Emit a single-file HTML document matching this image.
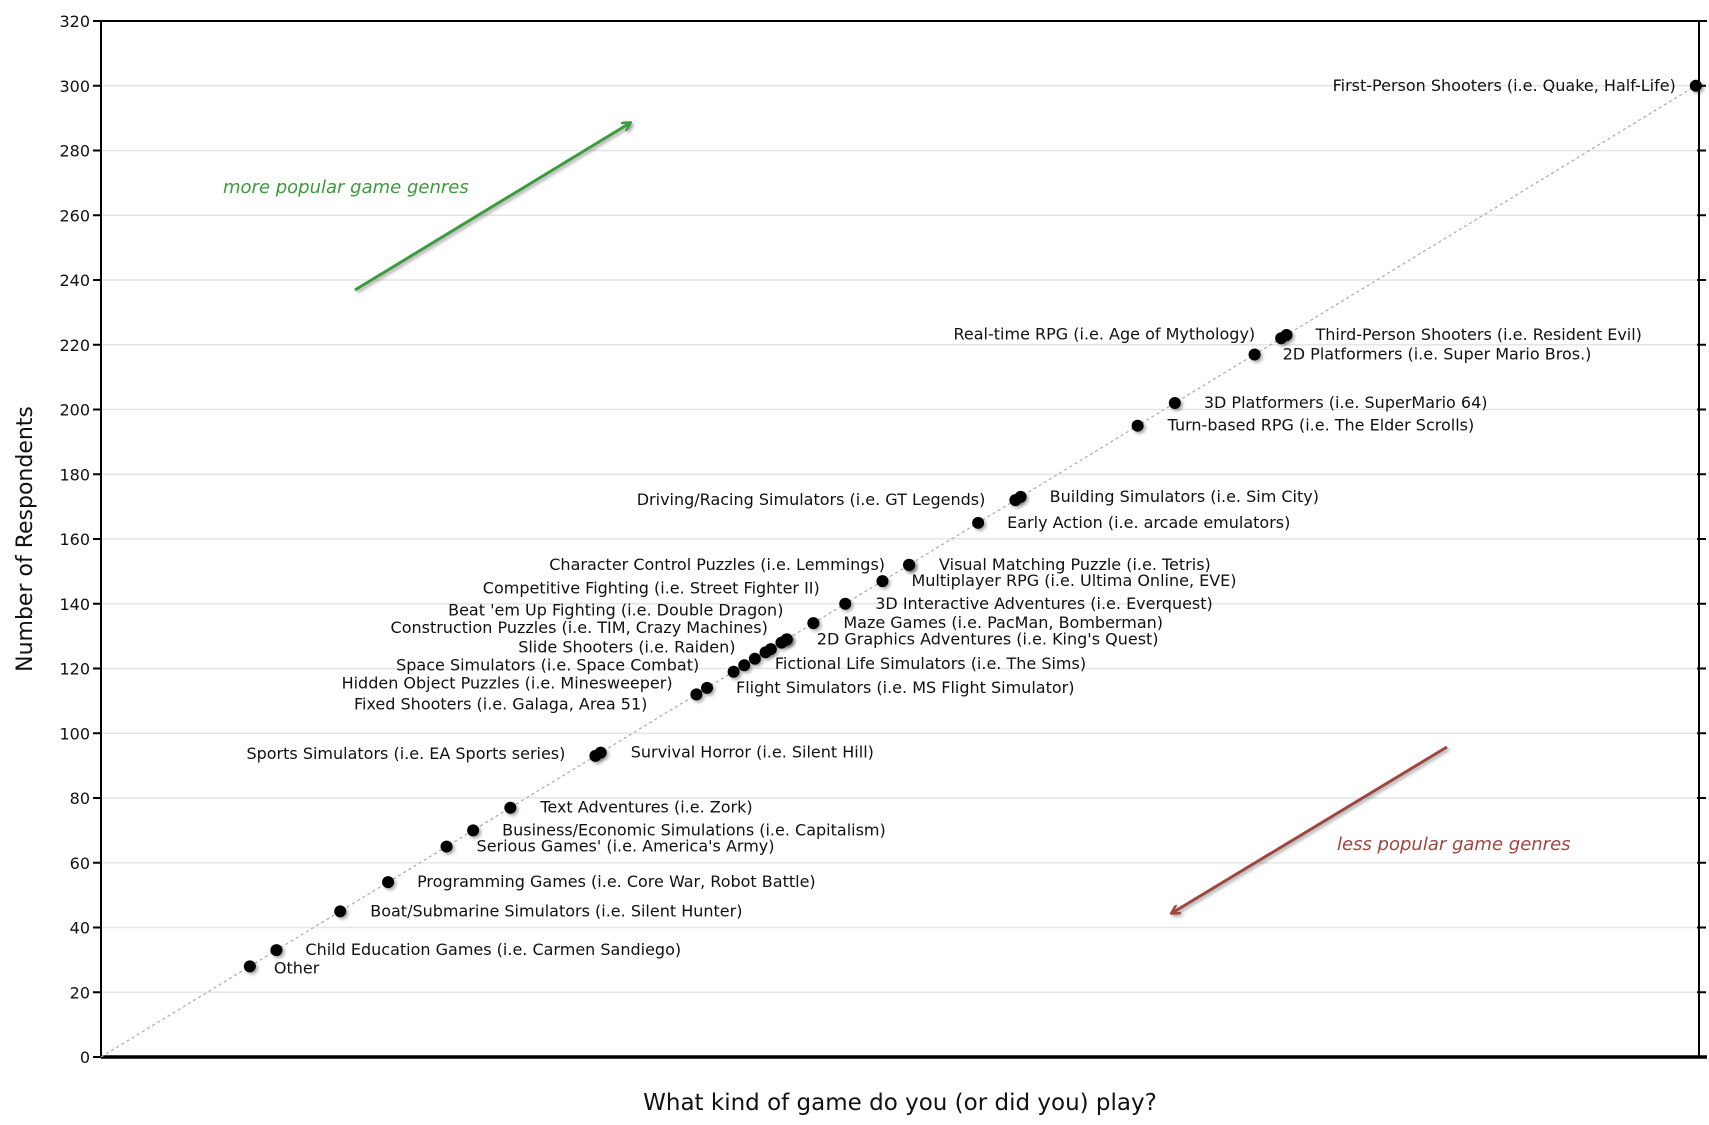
<!DOCTYPE html>
<html><head><meta charset="utf-8"><style>
body{margin:0;background:#fff}
svg{display:block;font-family:"DejaVu Sans","Liberation Sans",sans-serif}
</style></head><body>
<svg id="chart" width="1709" height="1125" viewBox="0 0 1709 1125" xmlns="http://www.w3.org/2000/svg">
<defs>
<filter id="sh" x="-50%" y="-50%" width="200%" height="200%"><feDropShadow dx="2" dy="2" stdDeviation="1.5" flood-color="#000" flood-opacity="0.35"/></filter>
<marker id="ag" markerWidth="10" markerHeight="10" refX="8" refY="5" orient="auto" markerUnits="userSpaceOnUse"><path d="M0,0 L9,5 L0,10" fill="none" stroke="#3c9a3c" stroke-width="2.5"/></marker>
<marker id="ar" markerWidth="10" markerHeight="10" refX="8" refY="5" orient="auto" markerUnits="userSpaceOnUse"><path d="M0,0 L9,5 L0,10" fill="none" stroke="#9e4640" stroke-width="2.5"/></marker>
</defs>
<g id="grid"></g>
<g id="axes"></g>
<g id="marks"></g>
<g id="annot">
<line x1="355" y1="290" x2="630" y2="123" stroke="#3c9a3c" stroke-width="3" marker-end="url(#ag)" filter="url(#sh)"/>
<text x="223" y="193" fill="#3c9a3c" font-size="18" font-style="italic">more popular game genres</text>
<line x1="1447" y1="747" x2="1172" y2="913" stroke="#9e4640" stroke-width="3" marker-end="url(#ar)" filter="url(#sh)"/>
<text x="1337" y="850" fill="#9e4640" font-size="18" font-style="italic">less popular game genres</text>
</g>
<text transform="translate(32,539) rotate(-90)" text-anchor="middle" font-size="22" fill="#111">Number of Respondents</text>
<text x="900" y="1110" text-anchor="middle" font-size="23" fill="#111">What kind of game do you (or did you) play?</text>
</svg>
<script>
const genres=["First-Person Shooters (i.e. Quake, Half-Life)","Third-Person Shooters (i.e. Resident Evil)","Real-time RPG (i.e. Age of Mythology)","2D Platformers (i.e. Super Mario Bros.)","3D Platformers  (i.e. SuperMario 64)","Turn-based RPG (i.e. The Elder Scrolls)","Building Simulators (i.e. Sim City)","Driving/Racing Simulators (i.e. GT Legends)","Early Action (i.e. arcade emulators)","Character Control Puzzles (i.e. Lemmings)","Visual Matching Puzzle (i.e. Tetris)","Multiplayer RPG (i.e. Ultima Online, EVE)","Competitive Fighting (i.e. Street Fighter II)","3D Interactive Adventures (i.e. Everquest)","Beat 'em Up Fighting (i.e. Double Dragon)","Maze Games (i.e. PacMan, Bomberman)","Construction Puzzles (i.e. TIM, Crazy Machines)","2D Graphics Adventures (i.e. King's Quest)","Slide Shooters (i.e. Raiden)","Fictional Life Simulators (i.e. The Sims)","Space Simulators (i.e. Space Combat)","Hidden Object Puzzles (i.e. Minesweeper)","Flight Simulators (i.e. MS Flight Simulator)","Fixed Shooters (i.e. Galaga, Area 51)","Survival Horror (i.e. Silent Hill)","Sports Simulators (i.e. EA Sports series)","Text Adventures (i.e. Zork)","Business/Economic Simulations (i.e. Capitalism)","Serious Games' (i.e. America's Army)","Programming Games (i.e. Core War, Robot Battle)","Boat/Submarine Simulators (i.e. Silent Hunter)","Child Education Games (i.e. Carmen Sandiego)","Other"];
const respondents=[300,223,222,217,202,195,173,172,165,152,152,147,129,140,128,134,126,129,125,123,121,119,114,112,94,93,77,70,65,54,45,33,28];
const yTicks=[0,20,40,60,80,100,120,140,160,180,200,220,240,260,280,300,320];
// label layout only: [dx, dy, anchorEnd]
const labelOffsets=[[-20,0,1],[29,0,0],[-26,-4,1],[28,0,0],[29,0,0],[30,0,0],[29,0,0],[-30,0,1],[29,0,0],[-24,0,1],[30,0,0],[29,0,0],[33,-51,1],[30,0,0],[2,-32,1],[30,0,0],[-3,-21,1],[30,0,0],[-30,-5,1],[20,5,0],[-45,0,1],[-61,12,1],[29,0,0],[-49,10,1],[30,0,0],[-30,-2,1],[30,0,0],[29,0,0],[30,0,0],[29,0,0],[30,0,0],[29,0,0],[24,2,0]];
const L=101,R=1699,T=21,B=1057,XMAX=300.6,YMAX=320;
const X=v=>L+v*(R-L)/XMAX, Y=v=>B-v*(B-T)/YMAX;
const NS="http://www.w3.org/2000/svg";
function mk(tag,attrs,parent,txt){const e=document.createElementNS(NS,tag);for(const k in attrs)e.setAttribute(k,attrs[k]);if(txt!==undefined)e.textContent=txt;parent.appendChild(e);return e;}
const grid=document.getElementById('grid'),axes=document.getElementById('axes'),marks=document.getElementById('marks');
yTicks.forEach(t=>{
  const y=Y(t);
  if(t>0&&t<320){const g=mk('line',{x1:L,x2:R,y1:y,y2:y,stroke:'#e6e6e6','stroke-width':1.5},grid);
  
  }
  const tk=mk('line',{x1:L-8,x2:L,y1:y,y2:y,stroke:'#000','stroke-width':2},axes);
  
  
  const tr=mk('line',{x1:R-2,x2:R+7,y1:y,y2:y,stroke:'#000','stroke-width':2},axes);
  
  
  const lb=mk('text',{x:90,y:y+6,'text-anchor':'end','font-size':16,fill:'#111'},axes,String(t));
  
  
});
const ax=[[L,T,L,B,2],[L,B,R+8,B,3.5],[R,T,R,B,2],[L,T,R+8,T,2]];
ax.forEach(a=>{const l=mk('line',{x1:a[0],y1:a[1],x2:a[2],y2:a[3],stroke:'#000','stroke-width':a[4]},axes);

});
const diag=mk('line',{x1:X(0),y1:Y(0),x2:X(300),y2:Y(300),stroke:'#aaa','stroke-width':1.2,'stroke-dasharray':'3,3'},marks);


respondents.forEach((v,i)=>{
  const cx=X(v),cy=Y(v);
  const c=mk('circle',{cx:cx,cy:cy,r:6,fill:'#000',filter:'url(#sh)'},marks);
  
  
  const o=labelOffsets[i];
  const t=mk('text',{x:cx+o[0],y:cy+o[1]+5,'text-anchor':o[2]?'end':'start','font-size':16,fill:'#111'},marks,genres[i]);
  
  
});
</script>
</body></html>
